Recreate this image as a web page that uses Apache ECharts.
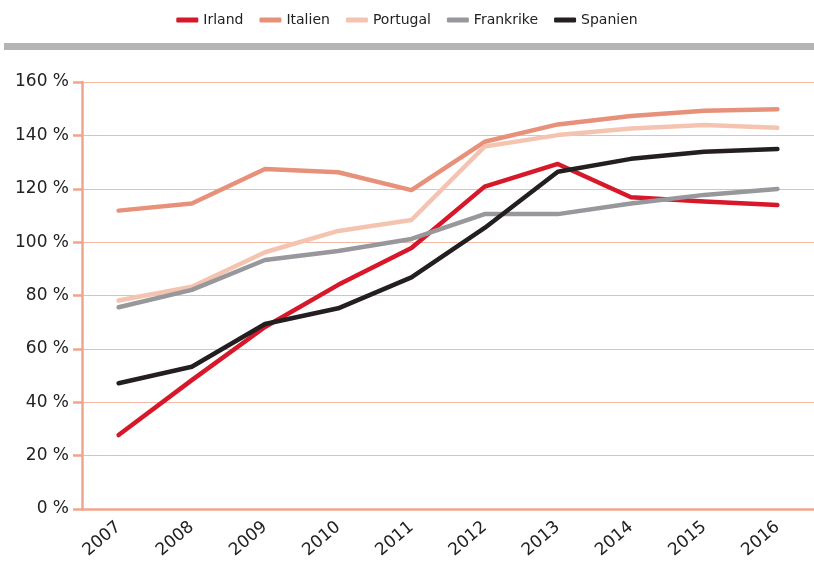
<!DOCTYPE html>
<html>
<head>
<meta charset="utf-8">
<script src="https://cdn.jsdelivr.net/npm/echarts@6/dist/echarts.min.js"></script>
<style>
html, body { margin: 0; padding: 0; background: #fff; }
#chart { width: 814px; height: 563px; }
</style>
</head>
<body>
<div id="chart"></div>
<script>
const years = ['2007', '2008', '2009', '2010', '2011', '2012', '2013', '2014', '2015', '2016'];
const irland = [27.7, 48.3, 68.2, 84, 97.8, 120.8, 129.3, 116.8, 115.2, 113.9];
const italien = [111.8, 114.5, 127.4, 126.2, 119.5, 137.6, 144.1, 147.3, 149.2, 149.8];
const portugal = [78.1, 83.3, 96.2, 104.2, 108.3, 135.8, 140.1, 142.6, 143.9, 142.9];
const frankrike = [75.6, 82.1, 93.3, 96.7, 101.2, 110.5, 110.5, 114.5, 117.7, 119.9];
const spanien = [47.1, 53.3, 69.3, 75.2, 86.8, 105.3, 126.4, 131.2, 133.9, 134.9];

const axisColor = '#f2a58c';
const font = 'DejaVu Sans';

function line(name, data, color) {
    return {
        name: name,
        type: 'line',
        data: data,
        symbol: 'none',
        lineStyle: { color: color, width: 4.5, cap: 'round', join: 'round' },
        itemStyle: { color: color }
    };
}

const chart = echarts.init(document.getElementById('chart'));
chart.setOption({
    animation: false,
    textStyle: { fontFamily: font },
    legend: {
        top: 8,
        left: 'center',
        itemWidth: 22,
        itemHeight: 5,
        itemGap: 16,
        icon: 'roundRect',
        textStyle: { fontSize: 14, color: '#222', fontFamily: font, fontWeight: 500 }
    },
    graphic: [{
        type: 'rect',
        shape: { x: 4, y: 43, width: 810, height: 7 },
        style: { fill: '#b3b4b6' }
    }],
    grid: { left: 82, right: -8, top: 82, bottom: 54 },
    xAxis: {
        type: 'category',
        data: years,
        boundaryGap: true,
        axisLine: { lineStyle: { color: axisColor, width: 2.5 } },
        axisTick: { show: false },
        axisLabel: { rotate: 40, fontSize: 17, color: '#222', margin: 16, fontFamily: font }
    },
    yAxis: {
        type: 'value',
        min: 0,
        max: 160,
        interval: 20,
        axisLine: { show: true, lineStyle: { color: axisColor, width: 2.5 } },
        axisTick: { show: true, length: 9, lineStyle: { color: axisColor, width: 2.5 } },
        splitLine: { lineStyle: { color: '#f5b9a4', width: 1 } },
        axisLabel: { formatter: '{value} %', fontSize: 17, color: '#222', margin: 13, fontFamily: font }
    },
    series: [
        line('Irland', irland, '#d7172a'),
        line('Italien', italien, '#e8917a'),
        line('Portugal', portugal, '#f5c4b1'),
        line('Frankrike', frankrike, '#98989c'),
        line('Spanien', spanien, '#231f20')
    ]
});
</script>
</body>
</html>
